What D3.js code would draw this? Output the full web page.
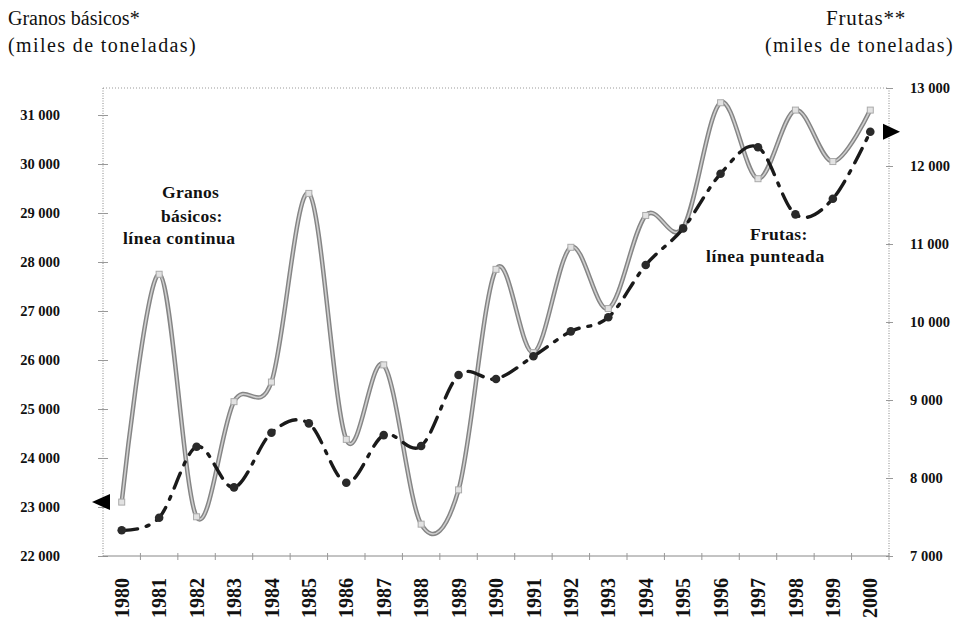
<!DOCTYPE html>
<html>
<head>
<meta charset="utf-8">
<script src="https://cdn.jsdelivr.net/npm/d3@7"></script>
<style>
  html, body { margin: 0; padding: 0; background: #fff; }
  svg { display: block; }
  text { font-family: "Liberation Serif", "Times New Roman", Times, serif; fill: #111; }
</style>
</head>
<body>
<svg id="chart" width="958" height="620"></svg>
<script>
// ---- data ----
const years = ["1980","1981","1982","1983","1984","1985","1986","1987","1988","1989","1990",
               "1991","1992","1993","1994","1995","1996","1997","1998","1999","2000"];
const granos = [23100, 27750, 22800, 25150, 25550, 29400, 24380, 25900, 22650, 23350, 27850,
                26150, 28300, 27050, 28950, 28700, 31250, 29700, 31100, 30050, 31100];
const frutas = [7330, 7490, 8400, 7880, 8580, 8700, 7940, 8550, 8410, 9320, 9270,
                9560, 9880, 10060, 10730, 11200, 11900, 12240, 11380, 11580, 12440];
const leftTicks = [22000, 23000, 24000, 25000, 26000, 27000, 28000, 29000, 30000, 31000];
const rightTicks = [7000, 8000, 9000, 10000, 11000, 12000, 13000];

// ---- layout ----
const svg = d3.select("#chart");
const L = 103, R = 889, T = 88, B = 556;

const x = d3.scaleBand().domain(years).range([L, R]);
const cx = d => x(d) + x.bandwidth() / 2;
const yL = d3.scaleLinear().domain([22000, 31000]).range([B, 115]);
const yR = d3.scaleLinear().domain([7000, 13000]).range([B, T]);
const fmt = v => d3.format(",")(v).replace(/,/g, " ");
const SERIF = "'Liberation Serif', 'Times New Roman', serif";

// frame (dotted)
svg.append("line").attr("x1", L).attr("x2", R).attr("y1", T).attr("y2", T)
  .attr("stroke", "#999").attr("stroke-width", 1).attr("stroke-dasharray", "1,2");
svg.append("line").attr("x1", R).attr("x2", R).attr("y1", T).attr("y2", B)
  .attr("stroke", "#888").attr("stroke-width", 1).attr("stroke-dasharray", "1,1.5");

// left axis
const gL = svg.append("g").attr("transform", `translate(${L},0)`)
  .call(d3.axisLeft(yL).tickValues(leftTicks).tickFormat(fmt).tickSizeInner(5).tickSizeOuter(0).tickPadding(38));
gL.attr("font-family", null);
gL.select(".domain").attr("d", `M0,${T}V${B}`).attr("stroke", "#888").attr("stroke-dasharray", "1,1.5");
gL.selectAll(".tick line").attr("stroke", "#999").attr("x2", -5).attr("x1", 5);
gL.selectAll(".tick text").style("font-family", SERIF)
  .style("font-weight", "bold").style("font-size", "14.5px").attr("fill", "#111");

// right axis
const gR = svg.append("g").attr("transform", `translate(${R},0)`)
  .call(d3.axisRight(yR).tickValues(rightTicks).tickFormat(fmt).tickSizeInner(4).tickSizeOuter(0).tickPadding(17));
gR.attr("font-family", null);
gR.select(".domain").remove();
gR.selectAll(".tick line").attr("stroke", "#999").attr("x1", -3).attr("x2", 4);
gR.selectAll(".tick text").style("font-family", SERIF)
  .style("font-weight", "bold").style("font-size", "14.5px").attr("fill", "#111");

// bottom axis
const gB = svg.append("g").attr("transform", `translate(0,${B})`)
  .call(d3.axisBottom(x).tickSize(0).tickPadding(0));
gB.attr("font-family", null);
gB.select(".domain").attr("d", `M${L},0H${R}`).attr("stroke", "#888").attr("stroke-width", 1);
gB.selectAll(".tick text")
  .attr("transform", "rotate(-90)")
  .attr("text-anchor", "end")
  .attr("x", -22).attr("y", 0).attr("dy", "0.36em")
  .style("font-family", SERIF)
  .style("font-weight", "bold").style("font-size", "20px").attr("fill", "#111");
// tick marks at band boundaries
svg.append("g").selectAll("line").data(years.slice(1).concat(["end"])).join("line")
  .attr("x1", d => d === "end" ? R : x(d)).attr("x2", d => d === "end" ? R : x(d))
  .attr("y1", B - 3).attr("y2", B + 4).attr("stroke", "#999").attr("stroke-width", 1);

// ---- granos line (gray, solid, smoothed) ----
const lineG = d3.line().x((d, i) => cx(years[i])).y(d => yL(d)).curve(d3.curveCardinal);
svg.append("path").datum(granos).attr("d", lineG)
  .attr("fill", "none").attr("stroke", "#858585").attr("stroke-width", 4.5);
svg.append("path").datum(granos).attr("d", lineG)
  .attr("fill", "none").attr("stroke", "#cfcfcf").attr("stroke-width", 1.6);
svg.append("g").selectAll("rect").data(granos).join("rect")
  .attr("x", (d, i) => cx(years[i]) - 3).attr("y", d => yL(d) - 3)
  .attr("width", 6).attr("height", 6)
  .attr("fill", "#e2e2e2").attr("stroke", "#aaa").attr("stroke-width", 1);

// ---- frutas line (black, dash-dot, smoothed) ----
const lineF = d3.line().x((d, i) => cx(years[i])).y(d => yR(d)).curve(d3.curveCardinal);
svg.append("path").datum(frutas).attr("d", lineF)
  .attr("fill", "none").attr("stroke", "#1a1a1a").attr("stroke-width", 3.4)
  .attr("stroke-dasharray", "16,9,3,9").attr("stroke-linecap", "round");
svg.append("g").selectAll("circle").data(frutas).join("circle")
  .attr("cx", (d, i) => cx(years[i])).attr("cy", d => yR(d)).attr("r", 4.3)
  .attr("fill", "#2a2a2a");

// ---- arrows ----
const ya = yL(granos[0]);
svg.append("path").attr("d", `M${L - 11},${ya} L${L + 7},${ya - 8} L${L + 7},${ya + 8} Z`).attr("fill", "#000");
const yb = yR(frutas[frutas.length - 1]);
svg.append("path").attr("d", `M${R + 11},${yb} L${R - 6},${yb - 8} L${R - 6},${yb + 8} Z`).attr("fill", "#000");

// ---- titles ----
const title = (t, xx, yy, anchor, size, ls) => svg.append("text").attr("x", xx).attr("y", yy)
  .attr("text-anchor", anchor).style("font-size", size + "px")
  .style("letter-spacing", ls + "px").text(t);
title("Granos básicos*", 8, 25, "start", 20, 0);
title("(miles de toneladas)", 8, 52, "start", 20, 1.4);
title("Frutas**", 906, 25, "end", 21, 0.8);
title("(miles de toneladas)", 954, 52, "end", 20, 1.4);

// ---- annotations ----
const note = (t, xx, yy, ls) => svg.append("text").attr("x", xx).attr("y", yy)
  .style("font-size", "17.5px").style("font-weight", "bold")
  .style("letter-spacing", ls + "px").text(t);
note("Granos", 162, 198, 0.3);
note("básicos:", 161, 222, 0.3);
note("línea continua", 123, 244, 0.5);
note("Frutas:", 750, 240, 0.3);
note("línea  punteada", 706, 262, 0.6);
</script>
</body>
</html>
